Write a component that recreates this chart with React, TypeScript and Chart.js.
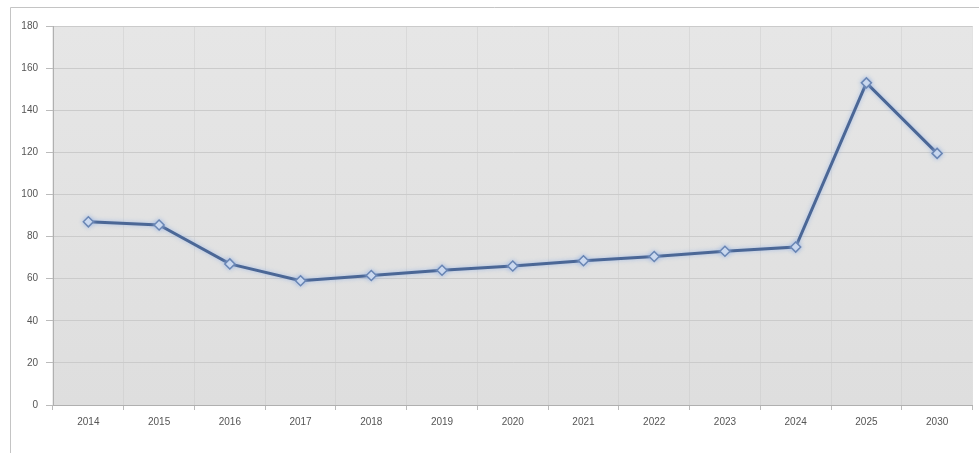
import React, { useEffect, useRef } from "react";
import { Chart, registerables } from "chart.js";

Chart.register(...registerables);

const categories = ["2014", "2015", "2016", "2017", "2018", "2019", "2020", "2021", "2022", "2023", "2024", "2025", "2030"];
const values = [87, 85.5, 67, 59, 61.5, 64, 66, 68.5, 70.5, 73, 75, 153, 119.5];
const yMin = 0;
const yMax = 180;
const yStep = 20;

const framePlugin = {
  id: "frame",
  beforeDraw(chart: any) {
    const { ctx, chartArea, width, height } = chart;
    ctx.save();
    ctx.fillStyle = "#ffffff";
    ctx.fillRect(0, 0, width, height);
    ctx.strokeStyle = "#c4c4c4";
    ctx.lineWidth = 1;
    ctx.beginPath();
    ctx.moveTo(10.5, height);
    ctx.lineTo(10.5, 7.5);
    ctx.lineTo(width, 7.5);
    ctx.stroke();
    const g = ctx.createLinearGradient(0, chartArea.top, 0, chartArea.bottom);
    g.addColorStop(0, "#e6e6e6");
    g.addColorStop(1, "#dedede");
    ctx.fillStyle = g;
    ctx.fillRect(chartArea.left, chartArea.top, chartArea.right - chartArea.left, chartArea.bottom - chartArea.top);
    ctx.restore();
  },
};

const shadowPlugin = {
  id: "lineShadow",
  beforeDatasetsDraw(chart: any) {
    const ctx = chart.ctx;
    ctx.save();
    ctx.shadowColor = "rgba(150,180,230,0.8)";
    ctx.shadowBlur = 4;
  },
  afterDatasetsDraw(chart: any) {
    chart.ctx.restore();
  },
};

export default function App() {
  const ref = useRef<HTMLCanvasElement | null>(null);
  useEffect(() => {
    if (!ref.current) return;
    const chart = new Chart(ref.current, {
      type: "line",
      data: {
        labels: categories,
        datasets: [
          {
            data: values,
            borderColor: "#4b6796",
            borderWidth: 3,
            pointStyle: "rectRot",
            pointRadius: 5,
            pointBackgroundColor: "#dbe4f2",
            pointBorderColor: "#6a86b4",
            pointBorderWidth: 1.5,
            tension: 0,
          },
        ],
      },
      options: {
        animation: false,
        responsive: false,
        maintainAspectRatio: false,
        layout: { padding: { top: 26, right: 4, bottom: 0, left: 0 } },
        plugins: { legend: { display: false }, tooltip: { enabled: false }, title: { display: false } },
        scales: {
          x: {
            offset: true,
            grid: { offset: true, color: "rgba(190,190,190,0.3)", tickLength: 5, tickColor: "#bbbbbb" },
            border: { color: "#b0b0b0" },
            ticks: { color: "#555555", font: { family: "Liberation Sans, Arial", size: 10 }, padding: 6, maxRotation: 0, autoSkip: false },
            afterFit(scale: any) {
              scale.height = 48;
            },
          },
          y: {
            min: yMin,
            max: yMax,
            grid: { color: "#cbcbcb", tickLength: 7, tickColor: "#bbbbbb" },
            border: { color: "#b0b0b0" },
            ticks: { stepSize: yStep, color: "#555555", font: { family: "Liberation Sans, Arial", size: 10 }, padding: 8 },
            afterFit(scale: any) {
              scale.width = 53;
            },
          },
        },
      },
      plugins: [framePlugin, shadowPlugin],
    });
    return () => chart.destroy();
  }, []);
  return (
    <div style={{ position: "fixed", left: 0, top: 0, width: 979, height: 453 }}>
      <canvas ref={ref} width={979} height={453} style={{ display: "block" }} />
    </div>
  );
}
